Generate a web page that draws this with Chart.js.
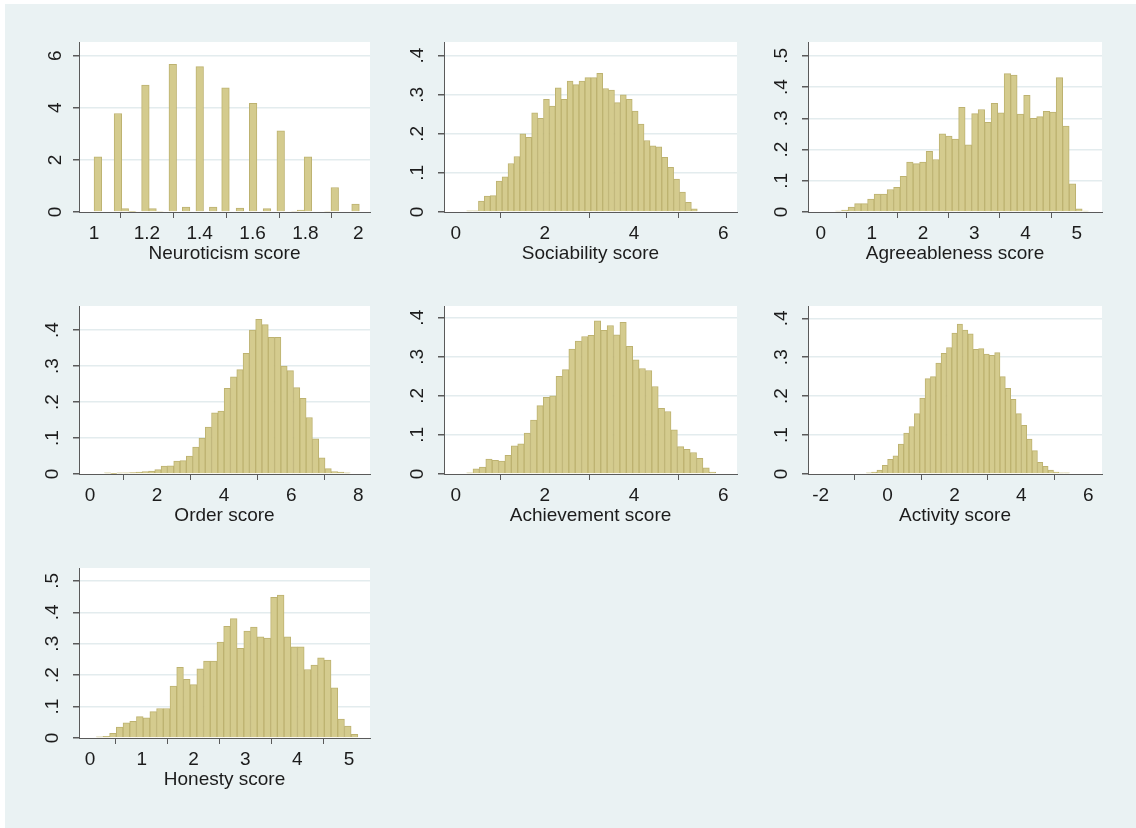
<!DOCTYPE html>
<html>
<head>
<meta charset="utf-8">
<script src="https://cdn.jsdelivr.net/npm/chart.js@4/dist/chart.umd.min.js"></script>
<style>
  html, body { margin: 0; padding: 0; background: #fff; }
  #frame { position: absolute; left: 5px; top: 4px; width: 1131px; height: 824px; background: #eaf2f3; overflow: hidden; }
  #frame canvas { position: absolute; }
</style>
</head>
<body>
<div id="frame"></div>
<script>
// ---- data (densities) ----

// Neuroticism: bars sit on irregular positions, so keep their midpoints
const neuroBinMids = [1.0145, 1.0905, 1.1165, 1.145, 1.1945, 1.2215, 1.249, 1.298, 1.3485, 1.400, 1.451,
  1.4975, 1.552, 1.602, 1.6545, 1.7065, 1.7585, 1.7835, 1.8095, 1.8845, 1.911, 1.9895];
const neuroDensity = [2.12, 3.78, 0.13, 0.02, 4.87, 0.13, 0.03, 5.67, 0.19, 5.58, 0.19,
  4.77, 0.15, 4.17, 0.13, 3.12, 0.03, 0.07, 2.12, 0.03, 0.94, 0.30];

// the other histograms use equal bins: first edge, bin width, heights
const sociStart = 0.245, sociWidth = 0.1326;
const sociDensity = [0.003, 0.003, 0.028, 0.041, 0.042, 0.079, 0.09, 0.124, 0.142, 0.2, 0.191, 0.254, 0.240,
  0.288, 0.271, 0.318, 0.288, 0.335, 0.326, 0.335, 0.344, 0.344, 0.355, 0.316, 0.312, 0.28, 0.30, 0.288,
  0.258, 0.225, 0.183, 0.169, 0.167, 0.14, 0.114, 0.084, 0.051, 0.025, 0.008];

const agreeStart = 0.281, agreeWidth = 0.127;
const agreeDensity = [0.003, 0.006, 0.016, 0.027, 0.027, 0.041, 0.057, 0.057, 0.072, 0.079, 0.114, 0.16,
  0.155, 0.16, 0.194, 0.168, 0.25, 0.243, 0.233, 0.335, 0.215, 0.315, 0.328, 0.287, 0.348, 0.317, 0.443,
  0.438, 0.313, 0.373, 0.30, 0.305, 0.322, 0.32, 0.43, 0.275, 0.09, 0.01, 0.003];

const orderStart = 0.24, orderWidth = 0.188;
const orderDensity = [0, 0.003, 0.001, 0.003, 0.003, 0.004, 0.005, 0.007, 0.008, 0.012, 0.022, 0.023,
  0.036, 0.037, 0.05, 0.075, 0.10, 0.13, 0.17, 0.175, 0.238, 0.27, 0.29, 0.335, 0.40, 0.43, 0.415, 0.38,
  0.38, 0.30, 0.287, 0.24, 0.21, 0.157, 0.098, 0.045, 0.015, 0.007, 0.005, 0.003];

const achStart = 0.245, achWidth = 0.1432;
const achDensity = [0.003, 0.013, 0.018, 0.038, 0.035, 0.033, 0.048, 0.072, 0.077, 0.105, 0.138, 0.175,
  0.196, 0.2, 0.25, 0.267, 0.32, 0.34, 0.352, 0.355, 0.392, 0.368, 0.38, 0.356, 0.388, 0.327, 0.292, 0.27,
  0.265, 0.224, 0.168, 0.16, 0.113, 0.07, 0.063, 0.055, 0.04, 0.016, 0.005];

const actStart = -0.64, actWidth = 0.16;
const actDensity = [0.003, 0.005, 0.01, 0.022, 0.038, 0.047, 0.077, 0.105, 0.122, 0.155, 0.195, 0.245,
  0.25, 0.285, 0.31, 0.325, 0.362, 0.385, 0.37, 0.36, 0.32, 0.322, 0.308, 0.305, 0.312, 0.25, 0.22, 0.192,
  0.155, 0.125, 0.09, 0.06, 0.03, 0.02, 0.01, 0.005, 0.003, 0.003];

const honStart = 0.12, honWidth = 0.1295;
const honDensity = [0.004, 0.005, 0.015, 0.035, 0.048, 0.053, 0.068, 0.064, 0.084, 0.094, 0.094, 0.165,
  0.225, 0.187, 0.17, 0.22, 0.245, 0.245, 0.305, 0.355, 0.38, 0.285, 0.34, 0.353, 0.322, 0.318, 0.448,
  0.455, 0.322, 0.29, 0.29, 0.218, 0.232, 0.255, 0.248, 0.16, 0.06, 0.038, 0.012];

// tick values
const neuroXTicks = [1, 1.2, 1.4, 1.6, 1.8, 2];
const neuroYTicks = [0, 2, 4, 6];
const zeroToSixTicks = [0, 2, 4, 6];
const zeroToFiveTicks = [0, 1, 2, 3, 4, 5];
const zeroToEightTicks = [0, 2, 4, 6, 8];
const activityXTicks = [-2, 0, 2, 4, 6];
const density4Ticks = [0, 0.1, 0.2, 0.3, 0.4];
const density5Ticks = [0, 0.1, 0.2, 0.3, 0.4, 0.5];

// ---- look ----
const FONT = '"Liberation Sans", Arial, sans-serif';
const TEXT = '#1c1c1c';
const AXIS = '#5a5a5a';
const GRID = '#e3ecee';
const BAR_FILL = '#d4cb8e';
const BAR_EDGE = '#bdb270';
const FRAME_X = 5, FRAME_Y = 4;
const PAD_L = 70, PAD_T = 10, PAD_R = 8, PAD_B = 70;

const binMids = (start, width, n) => Array.from({ length: n }, (_, i) => start + width * (i + 0.5));

// Stata style labels: ".1" instead of "0.1"
const fmt = v => {
  const r = Math.round(v * 1000) / 1000;
  if (r > -1 && r < 1 && r !== 0) return String(r).replace('0.', '.');
  return String(r);
};

const panels = [
  { title: 'Neuroticism score', rect: [79, 42, 370, 212], x: [0.9432, 2.0443], yMax: 6.526,
    xs: neuroBinMids, ys: neuroDensity, xTicks: neuroXTicks, yTicks: neuroYTicks, barThickness: 7.6 },
  { title: 'Sociability score', rect: [444, 42, 737, 212], x: [-0.262, 6.307], yMax: 0.435,
    xs: binMids(sociStart, sociWidth, sociDensity.length), ys: sociDensity, xTicks: zeroToSixTicks, yTicks: density4Ticks },
  { title: 'Agreeableness score', rect: [808, 42, 1102, 212], x: [-0.248, 5.494], yMax: 0.544,
    xs: binMids(agreeStart, agreeWidth, agreeDensity.length), ys: agreeDensity, xTicks: zeroToFiveTicks, yTicks: density5Ticks },
  { title: 'Order score', rect: [79, 306, 370, 474], x: [-0.328, 8.349], yMax: 0.4667,
    xs: binMids(orderStart, orderWidth, orderDensity.length), ys: orderDensity, xTicks: zeroToEightTicks, yTicks: density4Ticks },
  { title: 'Achievement score', rect: [444, 306, 737, 474], x: [-0.262, 6.307], yMax: 0.43,
    xs: binMids(achStart, achWidth, achDensity.length), ys: achDensity, xTicks: zeroToSixTicks, yTicks: density4Ticks },
  { title: 'Activity score', rect: [808, 306, 1102, 474], x: [-2.38, 6.41], yMax: 0.4316,
    xs: binMids(actStart, actWidth, actDensity.length), ys: actDensity, xTicks: activityXTicks, yTicks: density4Ticks },
  { title: 'Honesty score', rect: [79, 568, 370, 738], x: [-0.212, 5.405], yMax: 0.541,
    xs: binMids(honStart, honWidth, honDensity.length), ys: honDensity, xTicks: zeroToFiveTicks, yTicks: density5Ticks }
];

// white plot region on the bluish graph region
const plotBg = {
  id: 'plotBg',
  beforeDraw(chart) {
    const { ctx, chartArea: a } = chart;
    ctx.save();
    ctx.fillStyle = '#ffffff';
    ctx.fillRect(a.left, a.top, a.right - a.left, a.bottom - a.top);
    ctx.restore();
  }
};

const frame = document.getElementById('frame');

// fixed axis boxes so every plot region lands exactly on its rect
const fixBox = (s, size) => {
  if (s.isHorizontal()) s.height = size; else s.width = size;
  s.paddingTop = 0; s.paddingBottom = 0; s.paddingLeft = 0; s.paddingRight = 0;
};

function makePanel(p) {
  const [l, t, r, b] = p.rect;
  const W = r - l + PAD_L + PAD_R;
  const H = b - t + PAD_T + PAD_B;
  const canvas = document.createElement('canvas');
  canvas.width = W;
  canvas.height = H;
  canvas.style.width = W + 'px';
  canvas.style.height = H + 'px';
  canvas.style.left = (l - PAD_L - FRAME_X) + 'px';
  canvas.style.top = (t - PAD_T - FRAME_Y) + 'px';
  frame.appendChild(canvas);

  const tickFont = { family: FONT, size: 19 };

  return new Chart(canvas, {
    type: 'bar',
    data: {
      datasets: [{
        data: p.xs.map((x, i) => ({ x, y: p.ys[i] })),
        backgroundColor: BAR_FILL,
        borderColor: BAR_EDGE,
        borderWidth: 1,
        barPercentage: 1,
        categoryPercentage: 1,
        barThickness: p.barThickness
      }]
    },
    options: {
      responsive: false,
      animation: false,
      devicePixelRatio: 1,
      layout: { padding: { top: PAD_T, right: PAD_R, left: 0, bottom: 0 } },
      plugins: { legend: { display: false }, tooltip: { enabled: false } },
      scales: {
        x: {
          type: 'linear',
          min: p.x[0],
          max: p.x[1],
          offset: false,
          afterBuildTicks: s => { s.ticks = p.xTicks.map(v => ({ value: v })); },
          afterFit: s => fixBox(s, PAD_B),
          ticks: { callback: v => fmt(v), color: TEXT, font: tickFont, padding: 4, maxRotation: 0, autoSkip: false },
          grid: { drawOnChartArea: false, drawTicks: true, tickLength: 6, tickColor: AXIS },
          border: { display: true, color: AXIS, width: 1 },
          title: { display: true, text: p.title, color: TEXT, font: tickFont, padding: { top: 0, bottom: 17 } }
        },
        y: {
          type: 'linear',
          min: 0,
          max: p.yMax,
          afterBuildTicks: s => { s.ticks = p.yTicks.map(v => ({ value: v })); },
          afterFit: s => fixBox(s, PAD_L),
          ticks: { callback: v => fmt(v), color: TEXT, font: tickFont, padding: 12,
                   minRotation: 90, maxRotation: 90, crossAlign: 'center', autoSkip: false },
          grid: {
            color: c => (c.tick && c.tick.value === 0 ? 'rgba(0,0,0,0)' : GRID),
            lineWidth: 1.5,
            drawTicks: true,
            tickLength: 6,
            tickColor: AXIS
          },
          border: { display: true, color: AXIS, width: 1 }
        }
      }
    },
    plugins: [plotBg]
  });
}

panels.forEach(makePanel);
</script>
</body>
</html>
